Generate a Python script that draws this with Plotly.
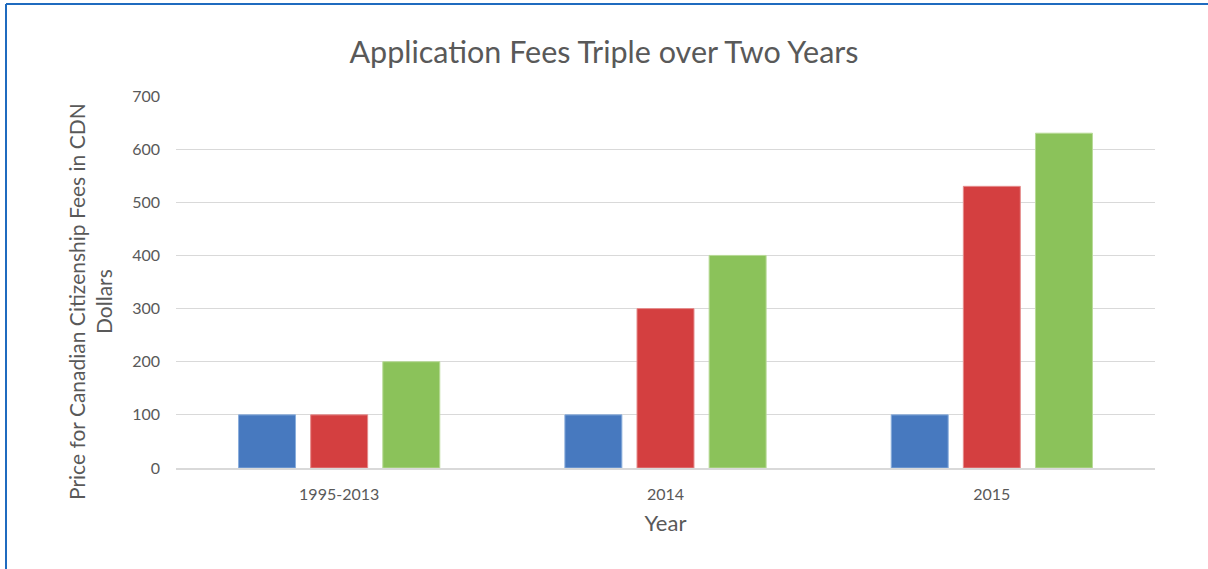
import plotly.graph_objects as go

categories = ["1995-2013", "2014", "2015"]
series_a = [100, 100, 100]
series_b = [100, 300, 530]
series_c = [200, 400, 630]
y_ticks = [0, 100, 200, 300, 400, 500, 600, 700]

colors = ["#4779BF", "#D43F40", "#8BC25A"]
edges = ["#8AAEDC", "#E58C8C", "#B8DA97"]

fig = go.Figure()
for name, vals, c, e in zip(["A", "B", "C"], [series_a, series_b, series_c], colors, edges):
    fig.add_trace(go.Bar(x=categories, y=vals, name=name,
                         marker=dict(color=c, line=dict(color=e, width=1))))

L, R, T, B = 176, 53, 96, 101
W, H = 1208, 569
pw, ph = W - L - R, H - T - B

def px(xp):
    return (xp - L) / pw

def py(yp):
    return (H - B - yp) / ph

font = "Lato, 'Open Sans', sans-serif"

fig.update_layout(
    width=W, height=H,
    margin=dict(l=L, r=R, t=T, b=B),
    paper_bgcolor="white", plot_bgcolor="white",
    barmode="group", bargap=0.337, bargroupgap=0.21,
    showlegend=False,
    title=dict(text="Application Fees Triple over Two Years", x=0.5, xref="container",
               y=1 - 52 / H, yref="container", yanchor="middle",
               font=dict(family=font, size=30.5, color="#595959")),
    font=dict(family=font, color="#595959"),
    xaxis=dict(showgrid=False, showline=True, linecolor="#d9d9d9", linewidth=1.5,
               ticks="", tickfont=dict(size=16, color="#595959"), ticklabelstandoff=11,
               title=dict(text="Year", font=dict(size=22, color="#595959"), standoff=14)),
    yaxis=dict(range=[0, 700], tickvals=y_ticks, showgrid=True, gridcolor="#d9d9d9",
               zeroline=False, showline=False, ticks="",
               tickfont=dict(size=16, color="#595959"), ticklabelstandoff=15),
    annotations=[dict(text="Price for Canadian Citizenship Fees in CDN<br>Dollars",
                      textangle=-90, x=px(90), y=py(302), xref="paper", yref="paper",
                      showarrow=False, font=dict(size=21, color="#595959"),
                      xanchor="center", yanchor="middle")],
    shapes=[
        dict(type="line", xref="paper", yref="paper", x0=px(6), x1=px(1210), y0=py(4), y1=py(4),
             line=dict(color="#1F6BBF", width=2)),
        dict(type="line", xref="paper", yref="paper", x0=px(6), x1=px(6), y0=py(4), y1=py(572),
             line=dict(color="#1F6BBF", width=2)),
    ],
)

fig.write_html("out.html", config={"displayModeBar": False},
               post_script="document.body.style.margin='0';document.body.style.overflow='hidden';")
